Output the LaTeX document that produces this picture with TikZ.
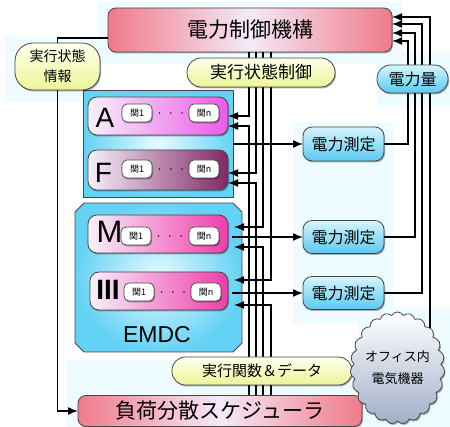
\documentclass[tikz,border=0pt]{standalone}
\usepackage{fontspec}
\setmainfont{Noto Sans CJK JP}
\newfontfamily\hel{Liberation Sans}
\usetikzlibrary{arrows.meta,shapes.misc,shapes.symbols,shadows,calc}
\pgfdeclarelayer{bg}\pgfdeclarelayer{fg}\pgfsetlayers{bg,main,fg}
\definecolor{pale}{RGB}{238,252,255}
\definecolor{redend}{RGB}{240,122,138}
\definecolor{redmid}{RGB}{244,234,248}
\definecolor{yelbot}{RGB}{234,246,150}
\definecolor{yeltop}{RGB}{255,255,238}
\definecolor{cyantop}{RGB}{215,245,253}
\definecolor{cyanbot}{RGB}{90,200,240}
\definecolor{blkout}{RGB}{100,210,245}
\definecolor{blkin}{RGB}{232,251,255}
\definecolor{magA}{RGB}{236,90,232}
\definecolor{plumF}{RGB}{128,40,100}
\definecolor{pinkM}{RGB}{240,60,170}
\definecolor{lav}{RGB}{246,240,250}
\definecolor{cloudbot}{RGB}{160,175,200}
\definecolor{edgec}{RGB}{70,70,70}
\tikzset{
  every node/.style={inner sep=0pt,outer sep=0pt},
  shd/.style={drop shadow={shadow xshift=1pt,shadow yshift=-1.5pt,opacity=0.3,fill=black}},
  bigbox/.style={shd,rounded corners=8pt,draw=edgec,line width=0.8pt,left color=redend,right color=redend,middle color=redmid},
  pill/.style={shd,draw=edgec,line width=0.8pt,top color=yeltop,bottom color=yelbot},
  cyanbox/.style={shd,rounded corners=9pt,draw=edgec,line width=0.8pt,top color=cyantop,bottom color=cyanbot},
  blk/.style={draw=edgec,line width=0.8pt,inner color=blkin,outer color=blkout},
  modbox/.style={shd,rounded corners=9pt,draw=edgec,line width=0.8pt,minimum width=140pt,minimum height=38pt},
  fnbox/.style={shd,draw=edgec,line width=0.7pt,fill=white,rounded corners=5pt,minimum width=30pt,minimum height=18pt,font=\fontsize{9}{9}\selectfont},
  letter/.style={font=\hel\fontsize{28}{28}\selectfont},
  dots/.style={font=\fontsize{11}{11}\selectfont},
  conn/.style={draw=black,line width=1.5pt,-{Latex[length=10pt,width=8pt]}},
}
\begin{document}
\begin{tikzpicture}[x=1pt,y=-1pt]
\useasboundingbox (0,0) rectangle (450,427);
% pale background glows
\begin{pgfonlayer}{bg}
\fill[pale] (98,2) rectangle (402,64);
\fill[pale] (5,37) rectangle (100,102);
\fill[pale] (377,52) rectangle (450,107);
\fill[pale] (293,122) rectangle (393,323);
\fill[pale] (358,308) rectangle (450,427);
\fill[pale] (67,360) rectangle (362,427);
\end{pgfonlayer}
% main boxes
\node[bigbox,minimum width=284pt,minimum height=44pt] (ctrl) at (250,30) {\fontsize{21}{21}\selectfont 電力制御機構};
\node[bigbox,minimum width=284pt,minimum height=31pt] (sched) at (220,411) {\fontsize{21}{21}\selectfont 負荷分散スケジューラ};
% module containers
\node[blk,minimum width=150pt,minimum height=107pt] (AFblk) at (158,144) {};
\node[minimum width=167pt,minimum height=149pt] (EMDCblk) at (158.5,277.5) {};
\path[blk] ($(EMDCblk.north west)+(0,9)$) -- ($(EMDCblk.north west)+(9,0)$)
  -- ($(EMDCblk.north east)+(-9,0)$) -- ($(EMDCblk.north east)+(0,9)$)
  -- ($(EMDCblk.south east)+(0,-9)$) -- ($(EMDCblk.south east)+(-9,0)$)
  -- ($(EMDCblk.south west)+(9,0)$) -- ($(EMDCblk.south west)+(0,-9)$) -- cycle;
\node[font=\hel\fontsize{23}{23}\selectfont] (emdc) at (157,335) {EMDC};
% modules
\node[modbox,left color=lav,right color=magA] (Abox) at (158,116) {};
\node[modbox,minimum height=40pt,left color=lav,right color=plumF] (Fbox) at (158,170) {};
\node[modbox,left color=lav,right color=pinkM] (Mbox) at (158,234) {};
\node[modbox,minimum width=138pt,left color=lav,right color=pinkM] (IIIbox) at (159,291) {};
\node[letter] (lA) at (105,118) {A};
\node[letter] (lF) at (103.5,172.5) {F};
\node[letter,font=\hel\fontsize{31}{31}\selectfont] (lM) at (109.5,231.5) {M};
\node[letter,font=\hel\bfseries\fontsize{28}{28}\selectfont] (lIII) at (108,290) {III};
\node[fnbox] (a1) at (137,113) {関1};
\node[fnbox] (an) at (204,113) {関n};
\node[dots] (ad) at (171,115) {·\hspace{5pt}·\hspace{5pt}·};
\node[fnbox] (f1) at (137,169) {関1};
\node[fnbox] (fn) at (204,169) {関n};
\node[dots] (fd) at (171,171) {·\hspace{5pt}·\hspace{5pt}·};
\node[fnbox] (m1) at (136,236) {関1};
\node[fnbox] (mn) at (204,236) {関n};
\node[dots] (md) at (170,238) {·\hspace{5pt}·\hspace{5pt}·};
\node[fnbox] (i1) at (139,292) {関1};
\node[fnbox] (in) at (206,292) {関n};
\node[dots] (id) at (173,294) {·\hspace{5pt}·\hspace{5pt}·};
% measurement
\node[cyanbox,minimum width=81pt,minimum height=34pt] (meas1) at (343.5,144) {\fontsize{16}{16}\selectfont 電力測定};
\node[cyanbox,minimum width=81pt,minimum height=33pt] (meas2) at (343.5,237) {\fontsize{16}{16}\selectfont 電力測定};
\node[cyanbox,minimum width=81pt,minimum height=33pt] (meas3) at (343.5,293) {\fontsize{16}{16}\selectfont 電力測定};
% foreground labels
\begin{pgfonlayer}{fg}
\node[pill,rounded corners=18pt,minimum width=85pt,minimum height=47pt,align=center,font=\fontsize{14}{20}\selectfont] (info) at (57.5,66.5) {実行状態\\情報};
\node[pill,rounded corners=14pt,minimum width=148pt,minimum height=29pt,font=\fontsize{17}{17}\selectfont] (cstate) at (261,72.5) {実行状態制御};
\node[pill,rounded corners=13.5pt,minimum width=180pt,minimum height=28pt,font=\fontsize{15}{15}\selectfont] (exec) at (262,371) {実行関数＆データ};
\node[cyanbox,rounded corners=13.5pt,minimum width=71pt,minimum height=28pt,font=\fontsize{16}{16}\selectfont] (power) at (412.5,79) {電力量};
\node[cloud,cloud puffs=23,cloud puff arc=120,cloud ignores aspect,minimum width=76pt,minimum height=112pt,draw=edgec,line width=0.8pt,top color=white,bottom color=cloudbot,shd,align=center,font=\fontsize{13}{22}\selectfont] (cloud) at (397.5,368) {オフィス内\\電気機器};
\end{pgfonlayer}
% bus coordinates
\coordinate (b1) at (249,0);
\coordinate (b2) at (256,0);
\coordinate (b3) at (263,0);
\coordinate (b4) at (271,0);
\coordinate (r1) at (408,41);
\coordinate (r2) at (415,33);
\coordinate (r3) at (422,24);
\coordinate (r4) at (430,17);
% control -> modules
\draw[conn] (b1 |- ctrl.south) |- (Abox.east);
\draw[conn] (b2 |- ctrl.south) |- ($(Fbox.east)+(0,3)$);
\draw[conn] (b3 |- ctrl.south) |- ($(Mbox.east)+(6,-7)$);
\draw[conn] (b4 |- ctrl.south) |- ($(IIIbox.east)+(6,-11)$);
% scheduler -> modules
\draw[conn] (b1 |- sched.north) |- ($(Abox.east)+(0,10)$);
\draw[conn] (b2 |- sched.north) |- ($(Fbox.east)+(0,13)$);
\draw[conn] (b3 |- sched.north) |- ($(Mbox.east)+(6,13)$);
\draw[conn] (b4 |- sched.north) |- ($(IIIbox.east)+(6,14)$);
% module outputs
\draw[conn] (AFblk.east) -- (meas1.west);
\draw[conn] ($(Mbox.east)+(4,3)$) -- (meas2.west);
\draw[conn] ($(IIIbox.east)+(4,2)$) -- (meas3.west);
% measurements -> control
\draw[conn] (meas1.east) -| (r1) -- (r1 -| ctrl.east);
\draw[conn] (meas2.east) -| (r2) -- (r2 -| ctrl.east);
\draw[conn] (meas3.east) -| (r3) -- (r3 -| ctrl.east);
\draw[conn] (r4 |- cloud.center) -- (r4) -- (r4 -| ctrl.east);
% state info
\draw[conn] ([yshift=-8pt]ctrl.west) -| (info.center) |- (sched.west);
\end{tikzpicture}
\end{document}
